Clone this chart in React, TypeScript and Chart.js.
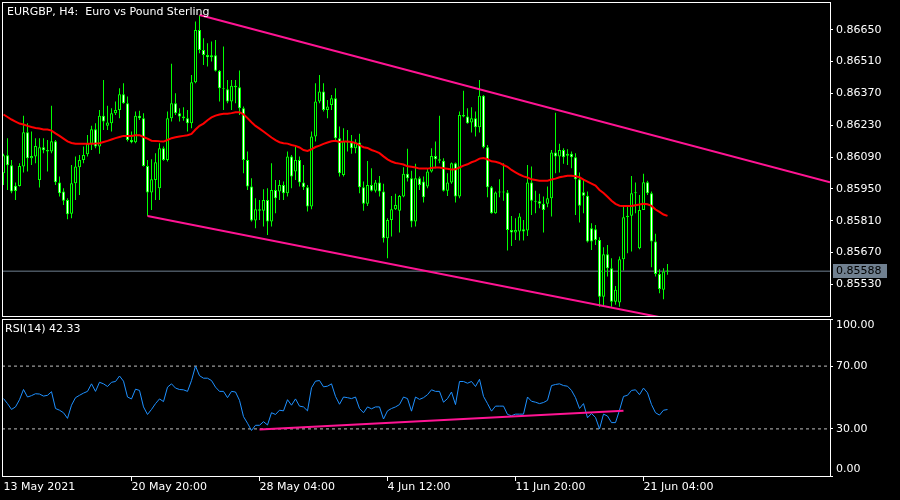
import React, { useEffect, useRef } from "react";
import { Chart, registerables } from "chart.js";

Chart.register(...registerables);

// ---- data (EURGBP H4, bar index 0 = 13 May 2021 12:00) ----
const opens = [
  0.86019, 0.86098, 0.86054, 0.85964, 0.85963, 0.86048, 0.86199, 0.86085, 0.86092, 0.85989,
  0.86133, 0.86121, 0.86114, 0.86159, 0.85978, 0.85938, 0.85901, 0.8584, 0.85975, 0.86045,
  0.86077, 0.86102, 0.86148, 0.86212, 0.86136, 0.86271, 0.86227, 0.86239, 0.86283, 0.86297,
  0.86366, 0.86327, 0.86165, 0.86155, 0.86271, 0.86261, 0.86051, 0.85934, 0.85989, 0.85953,
  0.86129, 0.86077, 0.86261, 0.86327, 0.86283, 0.86268, 0.86261, 0.86239, 0.86419, 0.86649,
  0.86561, 0.86539, 0.86529, 0.86538, 0.86469, 0.86393, 0.86388, 0.86334, 0.86397, 0.86397,
  0.86305, 0.86077, 0.8596, 0.85811, 0.8586, 0.85854, 0.85901, 0.85806, 0.85945, 0.85938,
  0.85967, 0.85931, 0.86092, 0.86026, 0.86077, 0.85978, 0.85957, 0.85872, 0.8618, 0.86334,
  0.86378, 0.86297, 0.86319, 0.86349, 0.86173, 0.86011, 0.86158, 0.86154, 0.86129, 0.86154,
  0.85957, 0.85884, 0.85967, 0.85942, 0.85978, 0.85938, 0.85733, 0.85813, 0.8586, 0.85854,
  0.85916, 0.86016, 0.85997, 0.85806, 0.85997, 0.85982, 0.8596, 0.86026, 0.86095, 0.8608,
  0.86074, 0.85942, 0.85978, 0.86063, 0.85916, 0.86275, 0.86268, 0.86242, 0.86261, 0.86221,
  0.86359, 0.86133, 0.85957, 0.85843, 0.85934, 0.85937, 0.85934, 0.85769, 0.85758, 0.85762,
  0.85772, 0.85767, 0.85978, 0.85898, 0.85896, 0.85884, 0.85884, 0.85909, 0.8611, 0.86092,
  0.86121, 0.86096, 0.86104, 0.86089, 0.85992, 0.85935, 0.8592, 0.85777, 0.85772, 0.85725,
  0.85476, 0.85662, 0.85601, 0.85454, 0.8545, 0.8564, 0.85825, 0.85832, 0.85931, 0.85689,
  0.85857, 0.85979, 0.85931, 0.85718, 0.85576, 0.85506, 0.85586,
];
const highs = [
  0.86104, 0.86173, 0.86077, 0.85978, 0.86063, 0.86271, 0.86239, 0.86202, 0.86173, 0.86173,
  0.86173, 0.86165, 0.86315, 0.86165, 0.86004, 0.85953, 0.85909, 0.86055, 0.86092, 0.86099,
  0.86136, 0.86187, 0.86227, 0.86239, 0.86297, 0.86429, 0.86315, 0.86305, 0.86334, 0.86393,
  0.86414, 0.86356, 0.86202, 0.8629, 0.86293, 0.86283, 0.86077, 0.8608, 0.86107, 0.86151,
  0.86136, 0.8629, 0.865, 0.86371, 0.86305, 0.86309, 0.86297, 0.86451, 0.86686, 0.86715,
  0.86612, 0.8659, 0.86598, 0.86605, 0.86473, 0.86576, 0.86429, 0.86429, 0.86429, 0.8647,
  0.86312, 0.86114, 0.85997, 0.85909, 0.85901, 0.85948, 0.85953, 0.86063, 0.85989, 0.85989,
  0.85982, 0.86114, 0.86099, 0.86136, 0.86092, 0.86055, 0.85967, 0.86202, 0.86414, 0.86451,
  0.86414, 0.86341, 0.86363, 0.86393, 0.86224, 0.86217, 0.86209, 0.86187, 0.86168, 0.86192,
  0.85982, 0.86073, 0.86041, 0.85989, 0.86007, 0.85972, 0.85821, 0.85919, 0.85928, 0.85923,
  0.86045, 0.86126, 0.8603, 0.8606, 0.86004, 0.86004, 0.86041, 0.86129, 0.86158, 0.86271,
  0.86085, 0.86019, 0.86066, 0.86066, 0.8629, 0.86382, 0.86305, 0.86309, 0.8629, 0.86429,
  0.86363, 0.86143, 0.85963, 0.85938, 0.85992, 0.86063, 0.85945, 0.85831, 0.85821, 0.85843,
  0.85813, 0.86055, 0.86048, 0.85942, 0.85928, 0.85916, 0.8596, 0.86121, 0.86285, 0.86148,
  0.86129, 0.86124, 0.86114, 0.86107, 0.86022, 0.85989, 0.85938, 0.85799, 0.85791, 0.85737,
  0.85693, 0.85703, 0.85645, 0.85523, 0.85652, 0.85872, 0.85872, 0.86007, 0.85978, 0.85923,
  0.86016, 0.85986, 0.85938, 0.85752, 0.85596, 0.85601, 0.8562,
];
const lows = [
  0.85967, 0.85945, 0.85931, 0.85901, 0.8596, 0.86022, 0.86026, 0.86055, 0.86063, 0.85956,
  0.86107, 0.86026, 0.86107, 0.85967, 0.85916, 0.85879, 0.85816, 0.85821, 0.85901, 0.85923,
  0.86063, 0.86092, 0.86121, 0.86129, 0.86104, 0.86209, 0.86209, 0.86202, 0.86275, 0.86261,
  0.86324, 0.86158, 0.86151, 0.86151, 0.86253, 0.86048, 0.85831, 0.85857, 0.85901, 0.85901,
  0.86074, 0.8607, 0.86246, 0.86275, 0.86246, 0.8625, 0.86202, 0.86217, 0.86414, 0.86546,
  0.86495, 0.86488, 0.8651, 0.86466, 0.86334, 0.86297, 0.86327, 0.86297, 0.86327, 0.86275,
  0.86019, 0.85945, 0.85806, 0.85777, 0.85813, 0.85784, 0.85747, 0.85784, 0.85843, 0.85901,
  0.85901, 0.85916, 0.85953, 0.85989, 0.8596, 0.85945, 0.8585, 0.8586, 0.86158, 0.86327,
  0.8629, 0.86261, 0.86297, 0.86165, 0.86004, 0.86004, 0.86114, 0.86104, 0.86107, 0.85931,
  0.85854, 0.85875, 0.85938, 0.85934, 0.85916, 0.85714, 0.85645, 0.8574, 0.85857, 0.85758,
  0.85913, 0.85982, 0.85781, 0.85784, 0.85945, 0.8589, 0.85953, 0.86022, 0.86041, 0.86063,
  0.85938, 0.85919, 0.85972, 0.8589, 0.85909, 0.86265, 0.86236, 0.86198, 0.8618, 0.86198,
  0.86129, 0.85913, 0.8584, 0.8584, 0.85913, 0.85898, 0.85679, 0.85699, 0.85725, 0.85723,
  0.85723, 0.85743, 0.85835, 0.85843, 0.85865, 0.85758, 0.85869, 0.85828, 0.86019, 0.86022,
  0.8606, 0.86055, 0.86041, 0.85835, 0.85802, 0.85843, 0.85714, 0.85681, 0.85703, 0.85432,
  0.85432, 0.85564, 0.85432, 0.8544, 0.85432, 0.85591, 0.85667, 0.85674, 0.85843, 0.85684,
  0.85857, 0.85923, 0.85605, 0.85564, 0.85491, 0.85465, 0.85572,
];
const closes = [
  0.86098, 0.86054, 0.85938, 0.85941, 0.86051, 0.86199, 0.86085, 0.86095, 0.86139, 0.86133,
  0.8612, 0.86114, 0.86159, 0.85979, 0.85931, 0.85898, 0.85838, 0.85975, 0.86048, 0.86077,
  0.86099, 0.86148, 0.86212, 0.86136, 0.86271, 0.86246, 0.86242, 0.86283, 0.86297, 0.86366,
  0.86327, 0.86165, 0.86155, 0.86271, 0.86261, 0.86051, 0.85934, 0.85992, 0.86067, 0.86129,
  0.86077, 0.86261, 0.86327, 0.86283, 0.86268, 0.86261, 0.86239, 0.86419, 0.86649, 0.86561,
  0.86539, 0.86529, 0.86538, 0.86469, 0.86393, 0.86388, 0.86334, 0.86403, 0.86403, 0.86305,
  0.86077, 0.8596, 0.85811, 0.8586, 0.85854, 0.85901, 0.85806, 0.85945, 0.85909, 0.85967,
  0.85931, 0.86092, 0.86004, 0.86077, 0.85978, 0.85957, 0.85872, 0.8618, 0.86334, 0.86378,
  0.86297, 0.86312, 0.86349, 0.86173, 0.86019, 0.86158, 0.86154, 0.86129, 0.86154, 0.85957,
  0.85884, 0.85967, 0.85942, 0.85978, 0.85938, 0.85733, 0.85813, 0.8586, 0.85879, 0.85919,
  0.86016, 0.85997, 0.85806, 0.85997, 0.85967, 0.85913, 0.86026, 0.86095, 0.8608, 0.86074,
  0.85942, 0.85978, 0.86063, 0.85916, 0.86275, 0.86268, 0.86239, 0.86261, 0.86221, 0.86359,
  0.86133, 0.85957, 0.85843, 0.85934, 0.85937, 0.85934, 0.85769, 0.85758, 0.85769, 0.85828,
  0.85762, 0.85978, 0.85898, 0.85893, 0.85884, 0.85857, 0.85909, 0.8611, 0.86092, 0.86121,
  0.86089, 0.86104, 0.86089, 0.85992, 0.85876, 0.8592, 0.85718, 0.85718, 0.85725, 0.85476,
  0.85662, 0.85601, 0.85454, 0.85506, 0.8564, 0.85825, 0.85832, 0.85931, 0.85935, 0.85857,
  0.85979, 0.85931, 0.85718, 0.85576, 0.85509, 0.85586, 0.85588,
];
const maValues = [
  0.86277, 0.86266, 0.86255, 0.86246, 0.86237, 0.86233, 0.86227, 0.86222, 0.86218, 0.86215,
  0.86211, 0.86211, 0.86206, 0.86194, 0.86183, 0.86171, 0.86159, 0.86152, 0.86148, 0.86148,
  0.86148, 0.86148, 0.86148, 0.86149, 0.86151, 0.86156, 0.86161, 0.86167, 0.86173, 0.86178,
  0.86183, 0.86183, 0.86183, 0.86186, 0.86186, 0.86178, 0.86171, 0.86162, 0.86161, 0.86159,
  0.86158, 0.86165, 0.86173, 0.86177, 0.8618, 0.86183, 0.86186, 0.86192, 0.86211, 0.86227,
  0.86237, 0.86252, 0.86264, 0.86272, 0.86277, 0.8628, 0.8628, 0.86283, 0.86287, 0.86287,
  0.86278, 0.86261, 0.86243, 0.86227, 0.86215, 0.86202, 0.86189, 0.86176, 0.86164, 0.86155,
  0.86151, 0.86149, 0.86143, 0.86139, 0.86132, 0.86121, 0.86117, 0.86124, 0.86134, 0.8614,
  0.86148, 0.86154, 0.86159, 0.86161, 0.86156, 0.86158, 0.86158, 0.86156, 0.86152, 0.86142,
  0.86133, 0.8613, 0.86121, 0.86115, 0.86107, 0.86093, 0.8608, 0.8607, 0.86064, 0.86061,
  0.86057, 0.86049, 0.86047, 0.86044, 0.86039, 0.86039, 0.86039, 0.86042, 0.86044, 0.86044,
  0.86041, 0.86038, 0.86035, 0.86036, 0.86044, 0.86052, 0.86058, 0.86067, 0.86073, 0.86083,
  0.86086, 0.8608, 0.86071, 0.86069, 0.86064, 0.86055, 0.86047, 0.86033, 0.86023, 0.86013,
  0.86005, 0.86, 0.85992, 0.85989, 0.85986, 0.85986, 0.85986, 0.85991, 0.85995, 0.86001,
  0.86004, 0.86008, 0.86008, 0.86005, 0.86001, 0.85991, 0.85982, 0.85973, 0.85964, 0.85945,
  0.85932, 0.85915, 0.85898, 0.85884, 0.85876, 0.85875, 0.85875, 0.85875, 0.85878, 0.85881,
  0.85884, 0.85882, 0.85875, 0.85859, 0.85849, 0.85837, 0.85831,
];
const rsiValues = [
  49.3, 46.1, 42.4, 44.0, 48.6, 55.1, 50.3, 51.2, 52.4, 52.2,
  50.9, 51.4, 53.7, 43.0, 41.9, 40.3, 36.7, 45.1, 49.9, 51.4,
  52.8, 53.9, 58.7, 53.9, 59.7, 58.7, 57.0, 59.7, 60.2, 63.7,
  60.4, 50.3, 49.1, 55.3, 54.5, 44.0, 39.2, 42.4, 46.1, 49.1,
  47.4, 56.6, 58.7, 56.0, 55.1, 54.9, 53.9, 60.8, 70.0, 63.9,
  62.3, 62.3, 60.8, 56.6, 53.9, 53.9, 49.9, 53.9, 53.5, 48.2,
  37.8, 33.6, 29.0, 32.3, 32.3, 34.6, 32.5, 40.3, 39.2, 41.9,
  41.5, 48.6, 45.1, 49.1, 44.5, 44.0, 41.5, 56.2, 60.4, 60.8,
  56.8, 57.2, 58.7, 50.7, 45.7, 50.3, 49.9, 49.3, 50.3, 43.0,
  40.3, 44.0, 42.8, 44.0, 44.0, 36.3, 41.5, 43.0, 44.0, 45.5,
  50.3, 49.3, 41.3, 50.3, 48.8, 49.9, 51.8, 54.9, 53.9, 53.9,
  47.0, 49.3, 53.5, 45.5, 60.2, 60.2, 59.1, 60.2, 57.0, 61.6,
  50.7, 46.1, 41.3, 44.5, 44.5, 44.5, 39.2, 38.4, 39.4, 39.4,
  39.4, 50.3, 47.6, 47.0, 46.1, 46.8, 48.2, 57.6, 58.3, 58.7,
  57.6, 57.2, 54.5, 49.9, 43.0, 46.1, 37.1, 39.8, 37.3, 30.0,
  39.4, 38.2, 34.0, 34.0, 41.9, 50.7, 51.4, 54.5, 54.9, 51.8,
  56.0, 53.0, 45.5, 40.3, 38.8, 41.9, 42.33,
];

const priceTicks = [0.8665, 0.8651, 0.8637, 0.8623, 0.8609, 0.8595, 0.8581, 0.8567, 0.8553];
const rsiTicks = [0, 30, 70, 100];
const rsiLevels = [30, 70];
const timeTickBars = [0, 32, 64, 96, 128, 160];
const timeTickLabels = ["13 May 2021", "20 May 20:00", "28 May 04:00", "4 Jun 12:00", "11 Jun 20:00", "21 Jun 04:00"];
const upperChannel = [{ bar: 49, price: 0.86715 }, { bar: 206.625, price: 0.85979 }];
const lowerChannel = [{ bar: 36, price: 0.85831 }, { bar: 166, price: 0.85379 }];
const rsiTrend = [{ bar: 64, value: 29.6 }, { bar: 155, value: 41.5 }];
const currentPrice = 0.85588;
const priceMin = 0.853908;
const priceMax = 0.867718;
const barMin = -0.375;
const barMax = 206.625;
const TITLE = "EURGBP, H4:  Euro vs Pound Sterling";

const GREEN = "#00FF00";
const PINK = "#FF1493";
const FONT_FAMILY = "'DejaVu Sans', sans-serif";
const FONT = { family: FONT_FAMILY, size: 11 };

export default function App() {
  const mainRef = useRef<HTMLCanvasElement>(null);
  const rsiRef = useRef<HTMLCanvasElement>(null);

  useEffect(() => {
    const idx = closes.map((_, i) => i);
    const bodies = idx.map((i) => ({ x: i, y: [opens[i], closes[i]] }));
    const wicks = idx.map((i) => ({ x: i, y: [lows[i], highs[i]] }));
    const bodyColors = idx.map((i) => (closes[i] >= opens[i] ? "#000000" : "#FFFFFF"));

    const frameAndText = (id: string, label: string, lx: number, ly: number, priceBox: boolean) => ({
      id,
      afterDraw(chart: any) {
        const { ctx, chartArea: a } = chart;
        ctx.save();
        ctx.strokeStyle = "#FFFFFF";
        ctx.lineWidth = 1;
        ctx.strokeRect(a.left + 0.5, a.top + 0.5, a.right - a.left, a.bottom - a.top);
        ctx.font = `11px ${FONT_FAMILY}`;
        ctx.textBaseline = "middle";
        ctx.textAlign = "left";
        ctx.fillStyle = "#FFFFFF";
        ctx.fillText(label, lx, ly);
        if (priceBox) {
          const y = Math.round(chart.scales.y.getPixelForValue(currentPrice));
          ctx.fillStyle = "#708090";
          ctx.fillRect(a.right + 3, y - 7, 54, 14);
          ctx.fillStyle = "#000000";
          ctx.fillText(currentPrice.toFixed(5), a.right + 6, y);
        }
        ctx.restore();
      },
    });

    const main = new Chart(mainRef.current as HTMLCanvasElement, {
      type: "bar",
      data: {
        datasets: [
          {
            type: "line",
            data: upperChannel.map((p) => ({ x: p.bar, y: p.price })),
            borderColor: PINK,
            borderWidth: 2,
            pointRadius: 0,
            clip: 0,
            order: 0,
          } as any,
          {
            type: "line",
            data: lowerChannel.map((p) => ({ x: p.bar, y: p.price })),
            borderColor: PINK,
            borderWidth: 2,
            pointRadius: 0,
            clip: 0,
            order: 0,
          } as any,
          {
            type: "line",
            data: idx.map((i) => ({ x: i, y: maValues[i] })),
            borderColor: "#FF0000",
            borderWidth: 2,
            pointRadius: 0,
            clip: 0,
            order: 1,
          } as any,
          {
            type: "bar",
            data: bodies,
            backgroundColor: bodyColors,
            borderColor: GREEN,
            borderWidth: 1,
            borderSkipped: false,
            barThickness: 3,
            grouped: false,
            minBarLength: 1,
            inflateAmount: 0,
            order: 2,
          } as any,
          {
            type: "bar",
            data: wicks,
            backgroundColor: GREEN,
            borderWidth: 0,
            barThickness: 1,
            grouped: false,
            inflateAmount: 0,
            order: 3,
          } as any,
          {
            type: "line",
            data: [{ x: barMin, y: currentPrice }, { x: barMax, y: currentPrice }],
            borderColor: "#708090",
            borderWidth: 1,
            pointRadius: 0,
            clip: 0,
            order: 10,
          } as any,
        ],
      },
      options: {
        animation: false,
        responsive: false,
        devicePixelRatio: 1,
        events: [],
        layout: { padding: { left: 2, top: 2, right: 0, bottom: 2 } },
        plugins: { legend: { display: false }, tooltip: { enabled: false }, title: { display: false } },
        scales: {
          x: {
            type: "linear",
            min: barMin,
            max: barMax,
            display: false,
            offset: false,
            grid: { offset: false },
          },
          y: {
            type: "linear",
            position: "right",
            min: priceMin,
            max: priceMax,
            afterBuildTicks: (s: any) => {
              s.ticks = priceTicks.map((v) => ({ value: v }));
            },
            afterFit: (s: any) => {
              s.width = 70;
              s.paddingTop = 0;
              s.paddingBottom = 0;
            },
            ticks: {
              autoSkip: false,
              color: "#FFFFFF",
              font: FONT,
              padding: 3,
              callback: (v: any) => Number(v).toFixed(5),
            },
            grid: { drawOnChartArea: false, drawTicks: true, tickLength: 3, color: "#FFFFFF" },
            border: { display: false },
          },
        },
      } as any,
      plugins: [frameAndText("mainFrame", TITLE, 7, 12, true)],
    });

    const rsi = new Chart(rsiRef.current as HTMLCanvasElement, {
      type: "line",
      data: {
        datasets: [
          ...rsiLevels.map(
            (lvl) =>
              ({
                data: [{ x: barMin, y: lvl }, { x: barMax, y: lvl }],
                borderColor: "#C0C0C0",
                borderWidth: 1,
                borderDash: [3, 3],
                pointRadius: 0,
                clip: 0,
                order: 3,
              }) as any
          ),
          {
            data: idx.map((i) => ({ x: i, y: rsiValues[i] })),
            borderColor: "#1E90FF",
            borderWidth: 1,
            pointRadius: 0,
            clip: 0,
            order: 2,
          } as any,
          {
            data: rsiTrend.map((p) => ({ x: p.bar, y: p.value })),
            borderColor: PINK,
            borderWidth: 2,
            pointRadius: 0,
            clip: 0,
            order: 1,
          } as any,
        ],
      },
      options: {
        animation: false,
        responsive: false,
        devicePixelRatio: 1,
        events: [],
        layout: { padding: { left: 2, top: 1, right: 0, bottom: 0 } },
        plugins: { legend: { display: false }, tooltip: { enabled: false } },
        scales: {
          x: {
            type: "linear",
            position: "bottom",
            min: barMin,
            max: barMax,
            offset: false,
            afterBuildTicks: (s: any) => {
              s.ticks = timeTickBars.map((v) => ({ value: v }));
            },
            afterFit: (s: any) => {
              s.height = 24;
              s.paddingLeft = 0;
              s.paddingRight = 0;
            },
            ticks: {
              autoSkip: false,
              maxRotation: 0,
              minRotation: 0,
              align: "start",
              color: "#FFFFFF",
              font: FONT,
              padding: 0,
              callback: (v: any) => timeTickLabels[timeTickBars.indexOf(Number(v))],
            },
            grid: {
              drawOnChartArea: false,
              drawTicks: true,
              tickLength: 5,
              offset: false,
              color: (c: any) => (c.index === 0 ? "rgba(0,0,0,0)" : "#FFFFFF"),
            },
            border: { display: false },
          },
          y: {
            type: "linear",
            position: "right",
            min: 0,
            max: 100,
            afterBuildTicks: (s: any) => {
              s.ticks = rsiTicks.map((v) => ({ value: v }));
            },
            afterFit: (s: any) => {
              s.width = 70;
              s.paddingTop = 0;
              s.paddingBottom = 0;
            },
            ticks: {
              autoSkip: false,
              color: "#FFFFFF",
              font: FONT,
              padding: 3,
              callback: (v: any) => {
                const n = Number(v);
                if (n === 100) return ["", n.toFixed(2)];
                if (n === 0) return [n.toFixed(2), ""];
                return n.toFixed(2);
              },
            },
            grid: { drawOnChartArea: false, drawTicks: true, tickLength: 3, color: "#FFFFFF" },
            border: { display: false },
          },
        },
      } as any,
      plugins: [
        frameAndText("rsiFrame", `RSI(14) ${rsiValues[rsiValues.length - 1].toFixed(2)}`, 5, 11, false),
      ],
    });

    return () => {
      main.destroy();
      rsi.destroy();
    };
  }, []);

  return (
    <div style={{ position: "absolute", left: 0, top: 0, width: 900, height: 500, background: "#000000", overflow: "hidden" }}>
      <canvas ref={mainRef} width={900} height={318} style={{ position: "absolute", left: 0, top: 0, display: "block" }} />
      <canvas ref={rsiRef} width={900} height={182} style={{ position: "absolute", left: 0, top: 318, display: "block" }} />
    </div>
  );
}
